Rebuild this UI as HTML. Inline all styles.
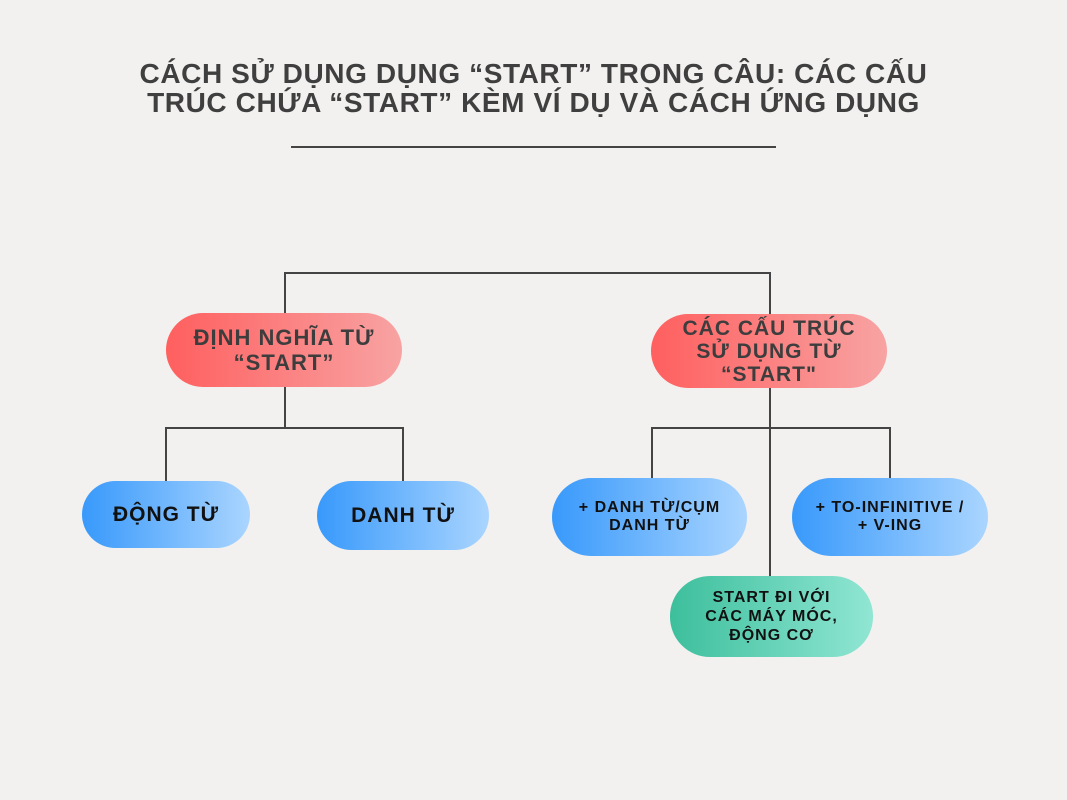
<!DOCTYPE html>
<html><head><meta charset="utf-8"><style>
body{margin:0;width:1067px;height:800px;background:#f2f1ef;position:relative;overflow:hidden;font-family:"Liberation Sans","DejaVu Sans",sans-serif}
.t{position:absolute;left:0;width:1067px;text-align:center;font-weight:bold;color:#3f3f3f;font-size:28px;line-height:29px;top:59px;letter-spacing:0.6px}
.l{position:absolute;background:#444}
.n{position:absolute;display:flex;align-items:center;justify-content:center;text-align:center;font-weight:bold;border-radius:40px;box-sizing:border-box;letter-spacing:1px}
.r{background:linear-gradient(90deg,#ff5f5f,#f8a3a3);color:#3d3d3d;font-size:22px;line-height:25px}
.b{background:linear-gradient(90deg,#3899fb,#aad5ff);color:#111;font-size:21px}
.bs{font-size:16px;line-height:18px}
.g{background:linear-gradient(90deg,#3dbf9c,#90e6d3);color:#111;font-size:16px;line-height:19px}
</style></head><body>
<div class="t">CÁCH SỬ DỤNG DỤNG “START” TRONG CÂU: CÁC CẤU<br>TRÚC CHỨA “START” KÈM VÍ DỤ VÀ CÁCH ỨNG DỤNG</div>
<div class="l" style="left:291px;top:146px;width:485px;height:2px"></div>
<div class="l" style="left:284px;top:272px;width:487px;height:2px"></div>
<div class="l" style="left:284px;top:272px;width:2px;height:43px"></div>
<div class="l" style="left:769px;top:272px;width:2px;height:43px"></div>
<div class="l" style="left:284px;top:387px;width:2px;height:41px"></div>
<div class="l" style="left:165px;top:427px;width:239px;height:2px"></div>
<div class="l" style="left:165px;top:427px;width:2px;height:55px"></div>
<div class="l" style="left:402px;top:427px;width:2px;height:55px"></div>
<div class="l" style="left:769px;top:387px;width:2px;height:190px"></div>
<div class="l" style="left:651px;top:427px;width:240px;height:2px"></div>
<div class="l" style="left:651px;top:427px;width:2px;height:52px"></div>
<div class="l" style="left:889px;top:427px;width:2px;height:52px"></div>
<div class="n r" style="left:166px;top:313px;width:236px;height:74px">ĐỊNH NGHĨA TỪ<br>“START”</div>
<div class="n r" style="left:651px;top:314px;width:236px;height:74px;font-size:21px;line-height:23px">CÁC CẤU TRÚC<br>SỬ DỤNG TỪ<br>“START"</div>
<div class="n b" style="left:82px;top:481px;width:168px;height:67px">ĐỘNG TỪ</div>
<div class="n b" style="left:317px;top:481px;width:172px;height:69px">DANH TỪ</div>
<div class="n b bs" style="left:552px;top:478px;width:195px;height:78px">+ DANH TỪ/CỤM<br>DANH TỪ</div>
<div class="n b bs" style="left:792px;top:478px;width:196px;height:78px">+ TO-INFINITIVE /<br>+ V-ING</div>
<div class="n g" style="left:670px;top:576px;width:203px;height:81px">START ĐI VỚI<br>CÁC MÁY MÓC,<br>ĐỘNG CƠ</div>
</body></html>
